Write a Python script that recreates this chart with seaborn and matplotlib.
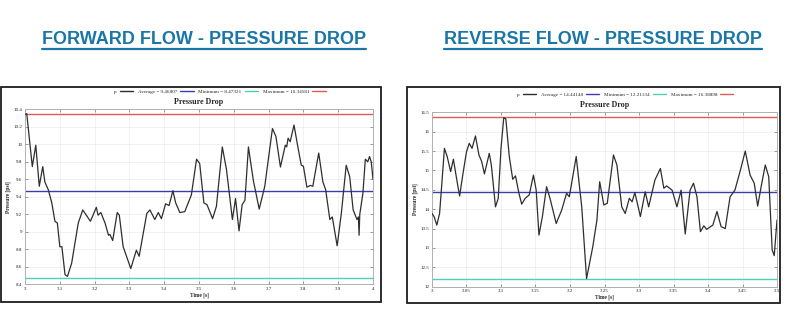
import matplotlib
matplotlib.use("Agg")
import matplotlib.pyplot as plt
from matplotlib.patches import Rectangle
from matplotlib.lines import Line2D
import seaborn as sns
import pandas as pd

# ---------------- data ----------------
fwd_time = [3.0, 3.005, 3.014, 3.021, 3.031, 3.041, 3.051, 3.057, 3.067, 3.077, 3.086, 3.093,
            3.1, 3.106, 3.115, 3.122, 3.134, 3.153, 3.166, 3.188, 3.205, 3.21, 3.218, 3.23,
            3.24, 3.244, 3.252, 3.265, 3.271, 3.282, 3.304, 3.32, 3.328, 3.35, 3.359, 3.373,
            3.383, 3.392, 3.404, 3.414, 3.425, 3.433, 3.445, 3.459, 3.478, 3.493, 3.502,
            3.514, 3.523, 3.539, 3.55, 3.567, 3.579, 3.596, 3.605, 3.615, 3.624, 3.632,
            3.642, 3.656, 3.673, 3.689, 3.711, 3.721, 3.734, 3.748, 3.752, 3.756, 3.762,
            3.773, 3.785, 3.794, 3.8, 3.81, 3.82, 3.827, 3.844, 3.856, 3.864, 3.876, 3.883,
            3.897, 3.909, 3.923, 3.933, 3.943, 3.954, 3.958, 3.96, 3.962, 3.971, 3.978,
            3.985, 3.99, 3.995, 4.0]
fwd_p = [10.34, 10.35, 10.01, 9.745, 9.99, 9.52, 9.745, 9.57, 9.48, 9.33, 9.12, 9.10,
         8.83, 8.83, 8.51, 8.49, 8.64, 9.10, 9.25, 9.12, 9.28, 9.19, 9.22, 9.10,
         8.96, 8.97, 8.90, 9.22, 9.19, 8.83, 8.58, 8.79, 8.72, 9.21, 9.25, 9.14,
         9.22, 9.15, 9.32, 9.30, 9.47, 9.33, 9.22, 9.23, 9.42, 9.83, 9.78,
         9.33, 9.31, 9.15, 9.29, 9.97, 9.71, 9.14, 9.38, 9.01, 9.31, 9.36,
         9.97, 9.59, 9.26, 9.52, 10.18, 10.09, 9.74, 9.99, 9.97, 10.07, 10.03,
         10.22, 9.95, 9.76, 9.75, 9.51, 9.53, 9.52, 9.90, 9.57, 9.48, 9.14, 9.17,
         8.84, 9.21, 9.76, 9.63, 9.25, 9.14, 9.17, 8.96, 9.20, 9.44, 9.83,
         9.80, 9.86, 9.80, 9.60]
fwd_stats = {"Average": 9.46807, "Minimum": 8.47321, "Maximum": 10.34581}

rev_time = [3.0, 3.003, 3.007, 3.011, 3.015, 3.018, 3.022, 3.027, 3.031, 3.036, 3.04, 3.045,
            3.05, 3.054, 3.058, 3.063, 3.068, 3.072, 3.076, 3.083, 3.086, 3.092, 3.096, 3.1,
            3.104, 3.107, 3.112, 3.117, 3.121, 3.126, 3.13, 3.135, 3.141, 3.147, 3.151,
            3.155, 3.16, 3.166, 3.171, 3.18, 3.188, 3.195, 3.199, 3.209, 3.217, 3.224,
            3.233, 3.239, 3.243, 3.249, 3.254, 3.263, 3.268, 3.275, 3.28, 3.286, 3.29,
            3.294, 3.302, 3.309, 3.314, 3.323, 3.331, 3.336, 3.34, 3.348, 3.355, 3.361,
            3.367, 3.374, 3.379, 3.384, 3.389, 3.394, 3.398, 3.407, 3.413, 3.419, 3.425,
            3.432, 3.439, 3.447, 3.454, 3.461, 3.467, 3.472, 3.477, 3.483, 3.488, 3.493,
            3.496, 3.5]
rev_p = [13.89, 13.81, 13.59, 13.89, 14.84, 15.57, 15.36, 14.97, 15.29, 14.75, 14.34, 14.93,
         15.48, 15.70, 15.57, 15.89, 15.40, 15.23, 14.91, 15.44, 15.14, 14.06, 14.28, 15.57,
         16.36, 16.33, 15.36, 14.77, 14.86, 14.41, 14.13, 14.28, 14.37, 14.88, 14.49,
         13.33, 13.81, 14.58, 14.28, 13.63, 13.98, 14.41, 14.32, 15.36, 14.06, 12.21,
         13.03, 13.72, 14.71, 14.11, 14.15, 15.40, 15.14, 14.06, 13.89, 14.28, 14.19,
         14.43, 13.81, 14.45, 14.06, 14.75, 15.05, 14.54, 14.60, 14.49, 14.06, 14.49,
         13.36, 14.49, 14.67, 14.32, 13.42, 13.57, 13.48, 13.59, 13.94, 13.55, 13.50,
         14.32, 14.49, 15.01, 15.50, 14.88, 14.67, 14.08, 14.58, 15.14, 14.84, 12.95,
         12.80, 13.72]
rev_stats = {"Average": 14.44148, "Minimum": 12.21134, "Maximum": 16.38898}

fwd_yticks = [8.4, 8.6, 8.8, 9, 9.2, 9.4, 9.6, 9.8, 10, 10.2, 10.4]
fwd_xticks = [3, 3.1, 3.2, 3.3, 3.4, 3.5, 3.6, 3.7, 3.8, 3.9, 4]
rev_yticks = [12, 12.5, 13, 13.5, 14, 14.5, 15, 15.5, 16, 16.5]
rev_xticks = [3, 3.05, 3.1, 3.15, 3.2, 3.25, 3.3, 3.35, 3.4, 3.45, 3.5]

panel_titles = ["FORWARD FLOW - PRESSURE DROP", "REVERSE FLOW - PRESSURE DROP"]

# ---------------- style ----------------
sns.set_theme(style="white")
plt.rcParams["font.family"] = ["Liberation Serif", "DejaVu Serif"]

W, H = 789, 330
fig = plt.figure(figsize=(W / 100, H / 100), dpi=100)
fig.patch.set_facecolor("white")

C_P = "#2e2e2e"
C_AVG = "#3a3fb0"
C_MIN = "#4fd0b4"
C_MAX = "#e05a5a"
TITLE_C = "#1b76a8"


def fx(px):
    return px / W


def fy(py):
    return 1 - py / H


def fmt(v):
    return "%g" % v


def draw_panel(box, axbox, t, p, stats, xticks, yticks, ylim, leg_x):
    bx0, by0, bx1, by1 = box
    fig.patches.append(Rectangle((fx(bx0), fy(by1)), fx(bx1 - bx0), (by1 - by0) / H,
                                 transform=fig.transFigure, fill=False,
                                 edgecolor="#1e1e1e", linewidth=1.3, zorder=0))
    ax0, ay0, ax1, ay1 = axbox
    ax = fig.add_axes([fx(ax0), fy(ay1), fx(ax1 - ax0), (ay1 - ay0) / H])
    df = pd.DataFrame({"Time": t, "p": p})
    sns.lineplot(data=df, x="Time", y="p", ax=ax, color=C_P, linewidth=0.9,
                 label="p", zorder=3)
    for name, col in (("Average", C_AVG), ("Minimum", C_MIN), ("Maximum", C_MAX)):
        val = stats[name]
        ax.axhline(val, color=col, linewidth=1.0, zorder=2,
                   label=f"{name} = {val:.5f}")
    ax.set_xlim(xticks[0], xticks[-1])
    ax.set_ylim(*ylim)
    ax.set_xticks(xticks)
    ax.set_yticks(yticks)
    ax.set_xticklabels([fmt(v) for v in xticks])
    ax.set_yticklabels([fmt(v) for v in yticks])
    ax.tick_params(axis="both", labelsize=3.6, colors="#555555", labelcolor="#222222",
                   direction="in", length=2, width=0.4, pad=2,
                   top=True, right=True, bottom=True, left=True)
    ax.grid(True, color="#ececec", linewidth=0.5)
    for s in ax.spines.values():
        s.set_color("#b0b0b0")
        s.set_linewidth(0.7)
    ax.set_xlabel("Time [s]", fontsize=4, fontweight="bold", labelpad=1)
    ax.set_ylabel("Pressure [psi]", fontsize=4, fontweight="bold", labelpad=2)
    ax.set_title("Pressure Drop", fontsize=5.8, fontweight="bold", pad=3.5)
    leg = ax.legend(loc="lower center", bbox_to_anchor=(leg_x, 1.075), ncol=4,
                    frameon=False, fontsize=3.7, markerfirst=False,
                    handlelength=2.6, handletextpad=0.6, columnspacing=0.9,
                    borderaxespad=0)
    for line in leg.get_lines():
        line.set_linewidth(1.0)
    return ax


draw_panel((1, 87, 381, 302), (25, 109.3, 373, 284.3), fwd_time, fwd_p, fwd_stats,
           fwd_xticks, fwd_yticks, (8.4, 10.4), 0.56)
draw_panel((407, 87, 780, 303), (432, 112.3, 777, 286.7), rev_time, rev_p, rev_stats,
           rev_xticks, rev_yticks, (12, 16.5), 0.56)

# panel headings with underline
fig.canvas.draw()
renderer = fig.canvas.get_renderer()
for cx, txt in ((204, panel_titles[0]), (603, panel_titles[1])):
    tt = fig.text(fx(cx), fy(40), txt, ha="center", va="center", fontsize=13,
                  fontweight="bold", color=TITLE_C, family=["Liberation Sans", "DejaVu Sans"])
    bb = tt.get_window_extent(renderer=renderer)
    fig.lines.append(Line2D([bb.x0 / W, bb.x1 / W], [fy(49), fy(49)],
                            transform=fig.transFigure, color=TITLE_C, linewidth=1.6))

fig.savefig("out.png", dpi=100, facecolor="white")
